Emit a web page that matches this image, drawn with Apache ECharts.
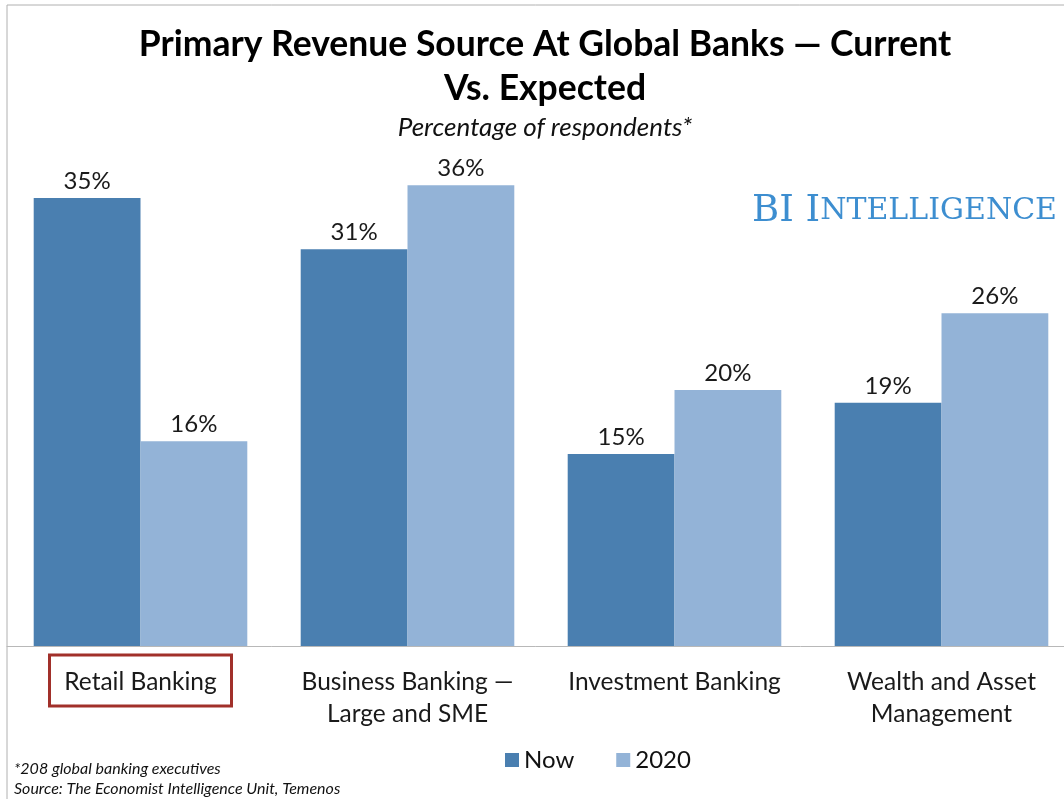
<!DOCTYPE html>
<html>
<head>
<meta charset="utf-8">
<script src="https://cdn.jsdelivr.net/npm/echarts@6/dist/echarts.min.js"></script>
<style>
html,body{margin:0;padding:0;background:#fff;}
#main{width:1064px;height:799px;}
</style>
</head>
<body>
<div id="main"></div>
<script>
// data
var categories = ['Retail Banking', 'Business Banking —\nLarge and SME', 'Investment Banking', 'Wealth and Asset\nManagement'];
var nowValues = [35, 31, 15, 19];
var futureValues = [16, 36, 20, 26];
var seriesNames = ['Now', '2020'];

var font = 'Lato, "Open Sans", sans-serif';
var serif = '"DejaVu Serif", "Liberation Serif", serif';
var chart = echarts.init(document.getElementById('main'));

var labelOpt = {
	show: true,
	position: 'top',
	distance: 5,
	formatter: '{c}%',
	fontFamily: font,
	fontSize: 24,
	color: '#1a1a1a'
};

var option = {
	backgroundColor: '#fff',
	animation: false,
	title: [{
		text: 'Primary Revenue Source At Global Banks — Current\nVs. Expected',
		left: 540,
		textAlign: 'center',
		top: 18,
		textStyle: {fontFamily: font, fontSize: 35.5, fontWeight: 'bold', color: '#000', lineHeight: 44}
	}, {
		text: 'Percentage of respondents*',
		left: 540,
		textAlign: 'center',
		top: 110,
		textStyle: {fontFamily: font, fontSize: 26, fontStyle: 'italic', fontWeight: 'normal', color: '#111'}
	}],
	legend: {
		data: seriesNames,
		left: 500,
		top: 743,
		itemWidth: 14,
		itemHeight: 14,
		itemGap: 42,
		icon: 'rect',
		textStyle: {fontFamily: font, fontSize: 24, color: '#111'}
	},
	//the picture is cropped on the right, so the grid runs past the edge
	grid: {left: 7, width: 1068, top: 134, bottom: 153, outerBoundsMode: 'none', containLabel: false},
	xAxis: {
		type: 'category',
		data: categories,
		axisLine: {show: true, lineStyle: {color: '#b8b8b8', width: 1}},
		axisTick: {show: false},
		axisLabel: {
			interval: 0,
			margin: 20,
			fontFamily: font,
			fontSize: 24.5,
			lineHeight: 32,
			color: '#1a1a1a'
		}
	},
	yAxis: {
		type: 'value',
		min: 0,
		max: 40,
		show: false,
		splitLine: {show: false}
	},
	series: [{
		name: seriesNames[0],
		type: 'bar',
		data: nowValues,
		barGap: '0%',
		barCategoryGap: '20%',
		itemStyle: {color: '#4a7fb0'},
		label: labelOpt
	}, {
		name: seriesNames[1],
		type: 'bar',
		data: futureValues,
		itemStyle: {color: '#93b3d7'},
		label: labelOpt
	}],
	graphic: [{
		id: 'frame',
		type: 'polyline',
		shape: {points: [[7, 799], [7, 5], [1064, 5]]},
		style: {stroke: '#b0b0b0', lineWidth: 1, fill: null},
		silent: true
	}, {
		id: 'brand',
		type: 'text',
		left: 752,
		top: 193,
		style: {
			text: '{a|BI I}{b|NTELLIGENCE}',
			rich: {
				a: {fontFamily: serif, fontSize: 37, fill: '#3d8ed0'},
				b: {fontFamily: serif, fontSize: 30, fill: '#3d8ed0'}
			}
		}
	}, {
		id: 'note',
		type: 'text',
		left: 14,
		top: 759,
		style: {
			text: '*208 global banking executives\nSource: The Economist Intelligence Unit, Temenos',
			fontFamily: font,
			fontSize: 16,
			fontStyle: 'italic',
			lineHeight: 20,
			fill: '#111'
		}
	}]
};

chart.setOption(option);

// red box round the first category label
var cx = chart.convertToPixel({xAxisIndex: 0}, categories[0]);
chart.setOption({
	graphic: [{
		id: 'retailBox',
		type: 'rect',
		shape: {x: cx - 91, y: 655, width: 182, height: 51},
		style: {stroke: '#a1302a', lineWidth: 3, fill: null},
		silent: true
	}]
});
</script>
</body>
</html>
